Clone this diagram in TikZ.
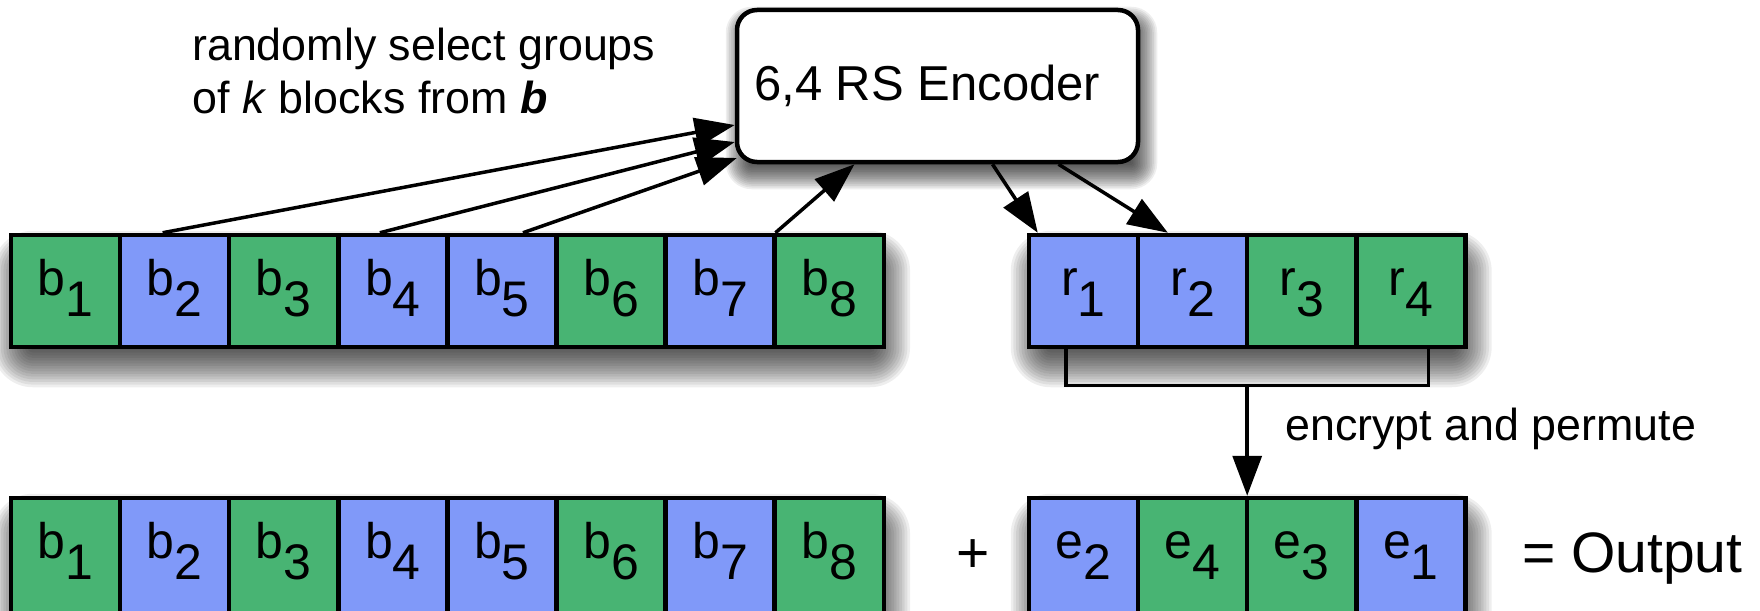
\documentclass[tikz,border=0pt]{standalone}
\usepackage{fontspec}
\setmainfont{Liberation Sans}
\usetikzlibrary{arrows.meta,calc}
\definecolor{cgreen}{RGB}{72,180,115}
\definecolor{cblue}{RGB}{128,153,249}
\pgfdeclarelayer{shade}
\pgfsetlayers{shade,main}

% block label: letter with a large, lowered index
\newcommand\blk[2]{#1\lower21pt\hbox{#2}}

% soft drop shadow built from stacked translucent rectangles
% #1 north-west corner, #2 south-east corner, #3 x offset, #4 y offset, #5 blur radius
\newcommand\softshade[5]{%
  \foreach \k in {0,...,15}{%
    \pgfmathsetmacro\ee{-#5+2*#5*\k/15}%
    \pgfmathsetmacro\rc{#5+\ee}%
    \pgfmathsetmacro\xa{#3-\ee}%
    \pgfmathsetmacro\ya{#4-\ee}%
    \pgfmathsetmacro\xb{#3+\ee}%
    \pgfmathsetmacro\yb{#4+\ee}%
    \fill[black,opacity=0.065,rounded corners=\rc pt]
      ($(#1)+(\xa,\ya)$) rectangle ($(#2)+(\xb,\yb)$);
  }}

\tikzset{
  cell/.style={draw, line width=4.5pt, minimum width=109.1pt, minimum height=112pt,
    inner sep=0pt, text height=28pt, text depth=20pt,
    font=\fontsize{50}{60}\selectfont},
  lowcell/.style={cell, minimum height=116pt, text height=24pt},
  txt/.style={inner sep=0pt, font=\fontsize{44.8}{54}\selectfont},
  bigtxt/.style={inner sep=0pt, font=\fontsize{57}{68}\selectfont},
  arr/.style={line width=3.5pt, -{Triangle[length=40pt,width=29pt]}},
  brk/.style={line width=3.5pt},
}

\begin{document}
\begin{tikzpicture}[x=1pt,y=-1pt]
\useasboundingbox (0,0) rectangle (1760,610);

% encoder
\node[draw, line width=4.5pt, rounded corners=20pt, fill=white,
      minimum width=401pt, minimum height=152pt] (enc) at (937.5,86) {};
\node[anchor=base west, inner sep=0pt, font=\fontsize{49}{59}\selectfont]
      (enctext) at (754,100) {6,4 RS Encoder};

% data blocks, top and bottom
\foreach \i/\c in {1/cgreen,2/cblue,3/cgreen,4/cblue,5/cblue,6/cgreen,7/cblue,8/cgreen}{
  \node[cell, fill=\c] (b\i) at ({11+109.1*(\i-0.5)},291) {\blk{b}{\i}};
  \node[lowcell, fill=\c] (c\i) at ({11+109.1*(\i-0.5)},556) {\blk{b}{\i}};
}

% redundancy blocks
\foreach \i/\c in {1/cblue,2/cblue,3/cgreen,4/cgreen}{
  \node[cell, fill=\c] (r\i) at ({1029+109.1*(\i-0.5)},291) {\blk{r}{\i}};
}

% encrypted, permuted blocks
\foreach \i/\c/\l in {1/cblue/2,2/cgreen/4,3/cgreen/3,4/cblue/1}{
  \node[lowcell, fill=\c] (p\i) at ({1029+109.1*(\i-0.5)},556) {\blk{e}{\l}};
}

% shadows
\begin{pgfonlayer}{shade}
  \softshade{b1.north west}{b8.south east}{4}{18}{20}
  \softshade{c1.north west}{c8.south east}{4}{18}{20}
  \softshade{r1.north west}{r4.south east}{4}{18}{20}
  \softshade{p1.north west}{p4.south east}{4}{18}{20}
  \softshade{enc.north west}{enc.south east}{4}{12}{13}
\end{pgfonlayer}

% selection arrows into the encoder
\draw[arr] ($(b2.north)+(-12,0)$) -- ($(enc.west)+(0,39)$);
\draw[arr] ($(b4.north)+(-13,0)$) -- ($(enc.west)+(0,56)$);
\draw[arr] ($(b5.north)+(21,0)$) -- ($(enc.west)+(2,72)$);
\draw[arr] ($(b8.north west)+(3,0)$) -- ($(enc.south)+(-83,0)$);

% encoder outputs
\draw[arr] ($(enc.south)+(55,0)$) -- ($(r1.north west)+(11,0)$);
\draw[arr] ($(enc.south)+(121,0)$) -- ($(r2.north west)+(32,0)$);

% bracket and encrypt step
\coordinate (bl) at ($(r1.south)+(-17.5,36)$);
\coordinate (br) at ($(r4.south)+(17.5,36)$);
\draw[brk] (r1.south -| bl) -- (bl) -- (br) -- (r4.south -| br);
\coordinate (bm) at ($(r2.south east)!0.5!(r3.south west)$);
\coordinate (bmid) at (bm |- bl);
\coordinate (ptop) at ($(p2.north east)!0.5!(p3.north west)$);
\draw[arr] (bmid) -- (ptop);

% texts
\node[txt, anchor=base west] (sel1) at (192,60) {randomly select groups};
\node[txt, anchor=base west] (sel2) at (192,113) {of \textit{k} blocks from \textbf{\textit{b}}};
\node[txt, anchor=base west] (encperm) at (1285,440) {encrypt and permute};
\node[bigtxt, anchor=base] (plus) at (973,572) {+};
\node[bigtxt, anchor=base west] (out) at (1522,572) {= Output};
\end{tikzpicture}
\end{document}
